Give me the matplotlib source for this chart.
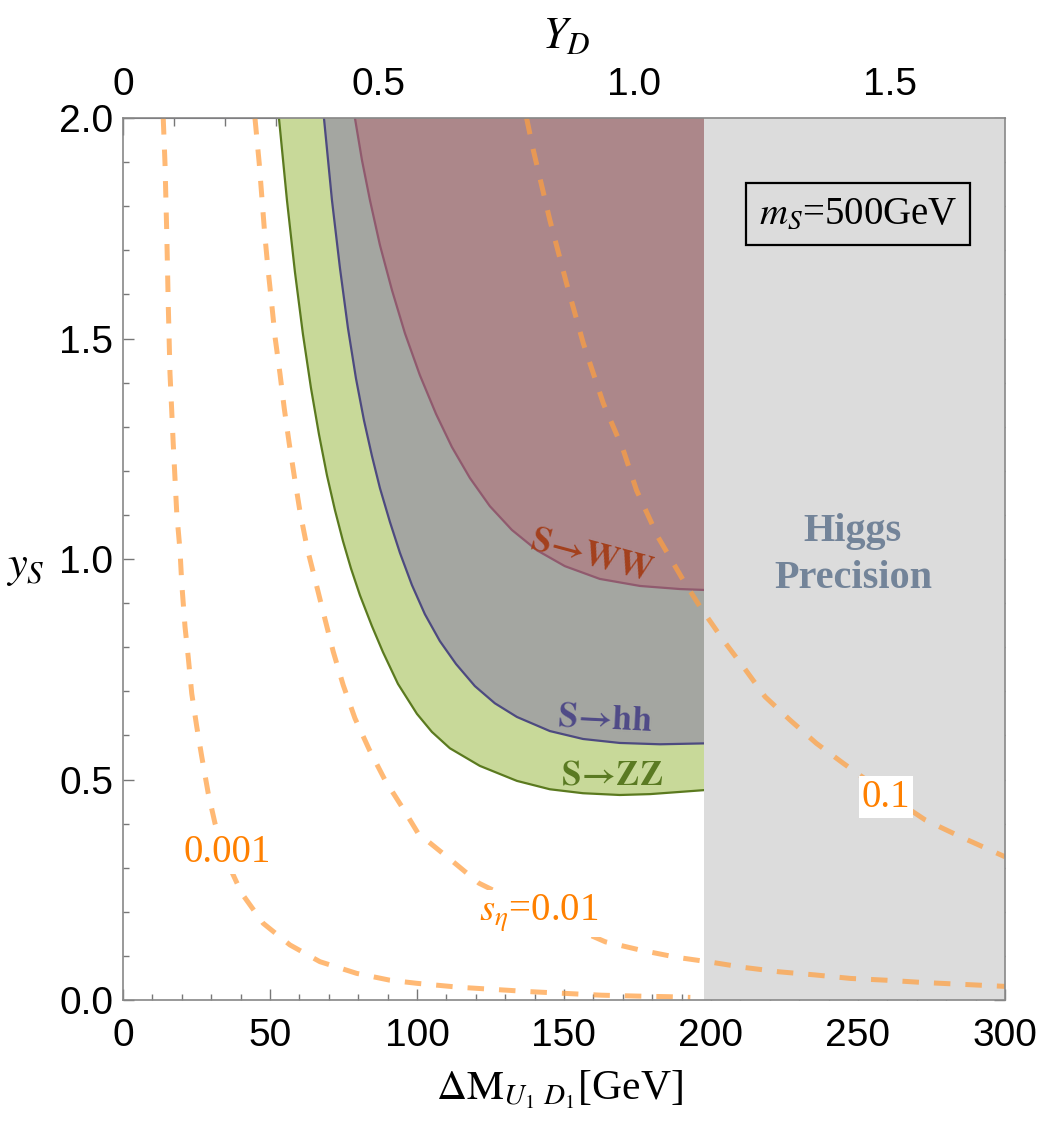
import matplotlib
matplotlib.use("Agg")
import matplotlib.pyplot as plt
from matplotlib.ticker import MultipleLocator, FormatStrFormatter

plt.rcParams['font.family'] = ['Liberation Sans', 'DejaVu Sans']
plt.rcParams['mathtext.fontset'] = 'stix'

# Delta M = 174 GeV * Y_D  (top axis)
GEV_PER_YD = 174.0
HIGGS_LIMIT = 197.6

# excluded-region boundaries (Delta M [GeV], y_S)
zz_x = [53.06, 55.78, 58.50, 61.22, 63.95, 66.67, 69.39, 72.11, 74.83, 77.55, 80.61,
        84.69, 88.44, 93.54, 100.0, 105.1, 111.2, 121.4, 134.0, 145.2, 156.5, 169.0,
        179.3, 189.5, 197.6, 240.0, 270.0, 300.0]
zz_y = [2.000, 1.814, 1.651, 1.510, 1.388, 1.283, 1.190, 1.111, 1.041, 0.979, 0.918,
        0.848, 0.789, 0.717, 0.649, 0.608, 0.571, 0.531, 0.497, 0.478, 0.469, 0.465,
        0.467, 0.472, 0.476, 0.490, 0.515, 0.549]

hh_x = [68.37, 71.09, 73.81, 76.53, 79.25, 81.97, 84.69, 87.41, 90.82, 94.22, 98.30,
        102.7, 107.8, 113.3, 119.7, 126.5, 134.0, 145.2, 156.5, 169.0, 182.7, 197.6,
        250.0, 300.0]
hh_y = [2.000, 1.814, 1.660, 1.524, 1.410, 1.315, 1.234, 1.161, 1.084, 1.014, 0.941,
        0.875, 0.814, 0.762, 0.712, 0.673, 0.642, 0.610, 0.592, 0.583, 0.580, 0.582,
        0.595, 0.628]

ww_x = [78.91, 81.29, 84.01, 87.41, 91.50, 95.92, 101.0, 106.5, 111.9, 118.0, 124.8,
        132.3, 140.8, 150.3, 162.2, 175.9, 189.5, 197.6, 250.0, 300.0]
ww_y = [2.000, 1.905, 1.814, 1.712, 1.610, 1.512, 1.417, 1.329, 1.254, 1.184, 1.120,
        1.066, 1.020, 0.984, 0.955, 0.939, 0.932, 0.930, 0.930, 0.940]

# s_eta contours
s001_x = [13.7, 14.3, 14.9, 15.4, 16.0, 17.1, 18.3, 19.4, 20.0, 21.1, 22.2, 23.4, 25.1,
          26.8, 29.0, 31.3, 35.0, 40.4, 47.7, 56.8, 67.0, 79.5, 90.8, 99.9, 114.4,
          126.5, 138.6, 150.7, 162.8, 174.9, 185.6, 193.0]
s001_y = [2.0, 1.897, 1.739, 1.58, 1.421, 1.262, 1.104, 1.02, 0.945, 0.847, 0.778, 0.695,
          0.620, 0.552, 0.469, 0.401, 0.320, 0.242, 0.174, 0.125, 0.087, 0.0605, 0.045,
          0.038, 0.029, 0.024, 0.019, 0.015, 0.011, 0.009, 0.0076, 0.006]

s01_x = [44.90, 46.36, 47.28, 48.20, 49.32, 50.58, 51.80, 53.40, 54.86, 56.56, 58.40,
         60.31, 62.69, 64.39, 68.37, 71.53, 74.93, 78.91, 83.78, 89.12, 95.58, 100.4,
         111.7, 121.1, 141.8, 164.1, 176.2, 188.3, 200.4, 211.2, 223.3, 235.4, 247.5,
         259.6, 271.7, 300.0]
s01_y = [2.000, 1.897, 1.818, 1.739, 1.659, 1.580, 1.500, 1.421, 1.342, 1.262, 1.183,
         1.104, 1.024, 0.979, 0.873, 0.790, 0.714, 0.639, 0.568, 0.499, 0.431, 0.378,
         0.317, 0.265, 0.197, 0.132, 0.113, 0.097, 0.0855, 0.074, 0.064, 0.057, 0.049,
         0.045, 0.040, 0.031]

s1_x = [137.3, 139.6, 145.2, 150.9, 156.6, 163.4, 170.2, 174.7, 182.0, 190.6, 196.3,
        204.2, 211.0, 218.4, 226.9, 235.9, 245.0, 259.0, 273.0, 285.0, 300.0]
s1_y = [2.0, 1.927, 1.769, 1.625, 1.489, 1.353, 1.247, 1.156, 1.05, 0.952, 0.892,
        0.816, 0.756, 0.688, 0.635, 0.582, 0.537, 0.470, 0.408, 0.370, 0.325]

fig = plt.figure(figsize=(10.42, 11.30), dpi=100)
ax = fig.add_axes([0.118, 0.115, 0.8464, 0.7805])
ax.set_xlim(0, 300)
ax.set_ylim(0, 2)


def region(xs, ys, face, edge):
    ax.fill(list(xs) + [300.0], list(ys) + [2.0], color=face, lw=0, zorder=1)
    ax.plot(xs, ys, color=edge, lw=1.6, zorder=2)


region(zz_x, zz_y, '#c8d999', '#5b7a1f')
region(hh_x, hh_y, '#a4a6a1', '#4d4a80')
region(ww_x, ww_y, '#ac878a', '#905a6e')

ax.axvspan(HIGGS_LIMIT, 300, color='#dcdcdc', lw=0, zorder=3)

for xs, ys in [(s001_x, s001_y), (s01_x, s01_y), (s1_x, s1_y)]:
    ln, = ax.plot(xs, ys, color='#ff9f40', alpha=0.72, lw=3.6, zorder=4,
                  solid_capstyle='butt', dash_capstyle='butt')
    ln.set_dashes((3.3, 3.0))

serif = ['Liberation Serif', 'DejaVu Serif']
orange = '#ff8000'
wbox = dict(facecolor='white', edgecolor='none', pad=2)
ax.text(35.3, 0.334, '0.001', color=orange, fontsize=28, family=serif,
        ha='center', va='center', zorder=5, bbox=wbox)
ax.text(141.3, 0.197, r'$s_\eta$=0.01', color=orange, fontsize=28, family=serif,
        ha='center', va='center', zorder=5, bbox=wbox)
ax.text(259.5, 0.46, '0.1', color=orange, fontsize=28, family=serif,
        ha='center', va='center', zorder=5, bbox=wbox)

ax.text(159.7, 1.009, r'$\mathbf{S\!\rightarrow\! WW}$', color='#a3401d', fontsize=25,
        ha='center', va='center', rotation=-15, zorder=5)
ax.text(164.0, 0.639, r'$\mathbf{S\!\rightarrow\! hh}$', color='#4f4a87', fontsize=25,
        ha='center', va='center', rotation=-3, zorder=5)
ax.text(166.3, 0.510, r'$\mathbf{S\!\rightarrow\! ZZ}$', color='#5a7a22', fontsize=25,
        ha='center', va='center', zorder=5)
ax.text(248.3, 1.009, 'Higgs\nPrecision', color='#738499', fontsize=29, family=serif,
        weight='bold', ha='center', va='center', linespacing=1.35, zorder=5)
ax.text(250.0, 1.782, r'$m_S$=500GeV', color='black', fontsize=28, family=serif,
        ha='center', va='center', zorder=5,
        bbox=dict(facecolor='none', edgecolor='black', lw=1.6, pad=9))

# axes, ticks
gray = '#777777'
for s in ax.spines.values():
    s.set_color('#888888')
    s.set_linewidth(1.2)
    s.set_zorder(6)
ax.xaxis.set_major_locator(MultipleLocator(50))
ax.xaxis.set_minor_locator(MultipleLocator(10))
ax.yaxis.set_major_locator(MultipleLocator(0.5))
ax.yaxis.set_minor_locator(MultipleLocator(0.1))
ax.yaxis.set_major_formatter(FormatStrFormatter('%.1f'))
ax.tick_params(which='both', direction='in', color=gray, width=1.0,
               top=False, right=True, labelsize=28, zorder=6)
ax.tick_params(which='major', length=8)
ax.tick_params(which='minor', length=4)
ax.tick_params(axis='x', pad=13)
ax.tick_params(axis='y', pad=7)

secax = ax.secondary_xaxis('top', functions=(lambda m: m / GEV_PER_YD,
                                             lambda y: y * GEV_PER_YD))
secax.set_xticks([0, 0.5, 1.0, 1.5])
secax.set_xticklabels(['0', '0.5', '1.0', '1.5'])
secax.xaxis.set_minor_locator(MultipleLocator(0.1))
secax.tick_params(which='both', direction='in', color=gray, width=1.0,
                  labelsize=28, pad=11)
secax.tick_params(which='major', length=12)
secax.tick_params(which='minor', length=6)
secax.spines['top'].set_color('#555566')

ax.text(0.495, -0.102, r'$\Delta\mathrm{M}_{U_1\ D_1}$[GeV]', transform=ax.transAxes,
        fontsize=30, family=serif, ha='center', va='center')
ax.text(-0.111, 0.49, r'$y_S$', transform=ax.transAxes, fontsize=32,
        ha='center', va='center')
ax.text(0.503, 1.092, r'$Y_D$', transform=ax.transAxes, fontsize=32,
        ha='center', va='center')

fig.savefig('out.png', dpi=100)
